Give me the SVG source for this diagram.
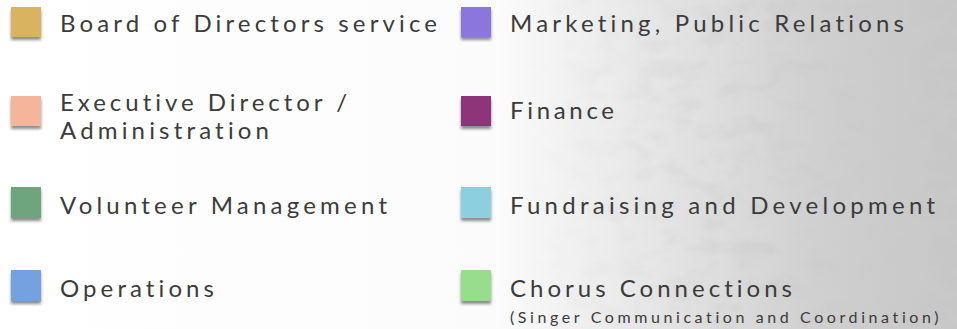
<svg xmlns="http://www.w3.org/2000/svg" width="957" height="329" viewBox="0 0 957 329">
<defs>
<linearGradient id="bg" x1="0" y1="0" x2="1" y2="0">
<stop offset="0" stop-color="#ffffff"/>
<stop offset="0.52" stop-color="#fbfbfb"/>
<stop offset="0.68" stop-color="#e6e6e6"/>
<stop offset="0.85" stop-color="#d0d0d0"/>
<stop offset="1" stop-color="#c6c6c6"/>
</linearGradient>
<linearGradient id="fade" x1="0" y1="0" x2="1" y2="0">
<stop offset="0.55" stop-color="#fff" stop-opacity="0"/>
<stop offset="0.8" stop-color="#fff" stop-opacity="0.7"/>
<stop offset="1" stop-color="#fff" stop-opacity="1"/>
</linearGradient>
<mask id="texmask">
<rect x="0" y="0" width="957" height="329" fill="url(#fade)"/>
</mask>
<filter id="stone" x="0" y="0" width="100%" height="100%">
<feTurbulence type="fractalNoise" baseFrequency="0.03 0.05" numOctaves="3" seed="7"/>
<feColorMatrix type="matrix" values="0 0 0 0 0.6  0 0 0 0 0.6  0 0 0 0 0.61  0 0 0 -3 1.7"/>
</filter>
<filter id="sh" x="-30%" y="-30%" width="160%" height="170%">
<feGaussianBlur in="SourceAlpha" stdDeviation="1.6"/>
<feOffset dx="0" dy="3" result="b"/>
<feComponentTransfer><feFuncA type="linear" slope="0.45"/></feComponentTransfer>
<feMerge><feMergeNode/><feMergeNode in="SourceGraphic"/></feMerge>
</filter>
<style>
.lbl{font-family:Lato,"Open Sans","Liberation Sans",sans-serif;font-size:24px;fill:#3b3b3b;letter-spacing:3px}
.sub{font-family:Lato,"Open Sans","Liberation Sans",sans-serif;font-size:16px;fill:#3b3b3b;letter-spacing:1.5px}
.sw{filter:url(#sh)}
</style>
</defs>
<rect x="0" y="0" width="957" height="329" fill="url(#bg)"/>
<rect x="0" y="0" width="957" height="329" filter="url(#stone)" mask="url(#texmask)" opacity="0.6"/>

<g id="board">
<rect class="sw" x="11" y="7" width="30" height="30" fill="#d9b35f"/>
<text class="lbl" x="60" y="32" textLength="380" lengthAdjust="spacing">Board of Directors service</text>
</g>
<g id="executive">
<rect class="sw" x="11" y="96" width="30" height="30" fill="#f4b59b"/>
<text class="lbl" x="60" y="111" textLength="290" lengthAdjust="spacing">Executive Director /</text>
<text class="lbl" x="60" y="139" textLength="212" lengthAdjust="spacing">Administration</text>
</g>
<g id="volunteer">
<rect class="sw" x="11" y="187" width="30" height="31" fill="#6ea47e"/>
<text class="lbl" x="60" y="214" textLength="330" lengthAdjust="spacing">Volunteer Management</text>
</g>
<g id="operations">
<rect class="sw" x="11" y="270" width="30" height="31" fill="#76a1e0"/>
<text class="lbl" x="60" y="297" textLength="157" lengthAdjust="spacing">Operations</text>
</g>
<g id="marketing">
<rect class="sw" x="461" y="7" width="30" height="30" fill="#8b76de"/>
<text class="lbl" x="510" y="32" textLength="397" lengthAdjust="spacing">Marketing, Public Relations</text>
</g>
<g id="finance">
<rect class="sw" x="461" y="96" width="30" height="30" fill="#8e3479"/>
<text class="lbl" x="510" y="119" textLength="107" lengthAdjust="spacing">Finance</text>
</g>
<g id="fundraising">
<rect class="sw" x="461" y="187" width="30" height="31" fill="#8ccfdf"/>
<text class="lbl" x="510" y="214" textLength="428" lengthAdjust="spacing">Fundraising and Development</text>
</g>
<g id="chorus">
<rect class="sw" x="461" y="270" width="30" height="31" fill="#98dc8d"/>
<text class="lbl" x="510" y="297" textLength="285" lengthAdjust="spacing">Chorus Connections</text>
<text class="sub" x="510" y="323" textLength="430" lengthAdjust="spacing">(Singer Communication and Coordination)</text>
</g>
<g id="connectors"/>
</svg>
